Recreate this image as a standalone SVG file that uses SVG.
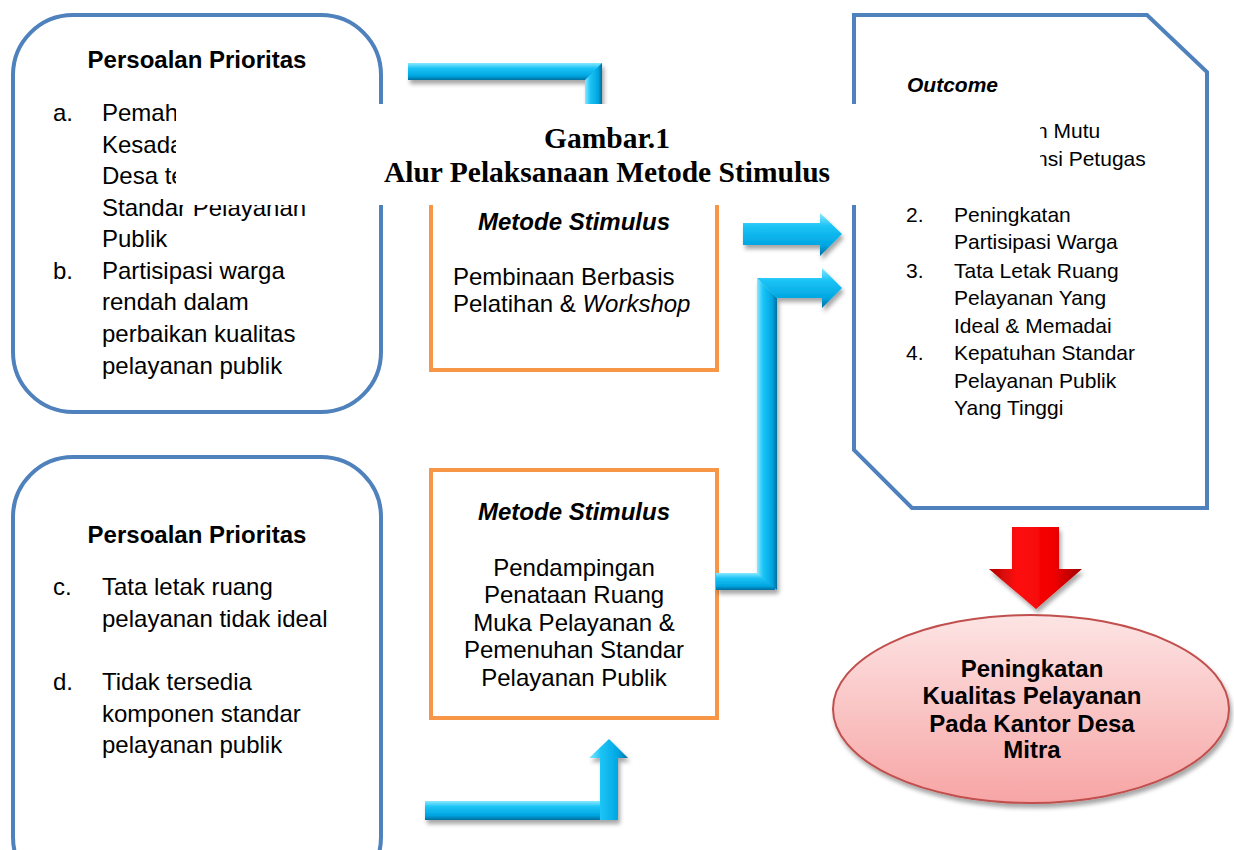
<svg xmlns="http://www.w3.org/2000/svg" width="1234" height="850" viewBox="0 0 1234 850">
<style>
.box{fill:#fff;stroke:#4F81BD;stroke-width:4}
.ob{fill:#fff;stroke:#F79646;stroke-width:4}
.t{font-family:"Liberation Sans",Arial,sans-serif;font-size:24px;fill:#000}
.o{font-family:"Liberation Sans",Arial,sans-serif;font-size:21px;fill:#000}
.b{font-weight:bold}
.i{font-style:italic}
.c{text-anchor:middle}
.title{font-family:"Liberation Serif","Times New Roman",serif;font-weight:bold;font-size:29.5px;fill:#000;text-anchor:middle}
</style>
<defs>
<linearGradient id="cyanH" x1="0" y1="0" x2="0" y2="1">
<stop offset="0" stop-color="#8AE9FF"/><stop offset="0.3" stop-color="#1CC4F6"/><stop offset="0.75" stop-color="#00A6E2"/><stop offset="1" stop-color="#006F9E"/>
</linearGradient>
<linearGradient id="cyanV" x1="0" y1="0" x2="1" y2="0">
<stop offset="0" stop-color="#8AE9FF"/><stop offset="0.3" stop-color="#1CC4F6"/><stop offset="0.75" stop-color="#00A6E2"/><stop offset="1" stop-color="#006F9E"/>
</linearGradient>
<linearGradient id="red" x1="0" y1="0" x2="1" y2="0">
<stop offset="0" stop-color="#B00000"/><stop offset="0.3" stop-color="#FF1010"/><stop offset="0.7" stop-color="#F00000"/><stop offset="1" stop-color="#A00000"/>
</linearGradient>
<linearGradient id="pink" x1="0" y1="0" x2="0" y2="1">
<stop offset="0" stop-color="#FDE4E4"/><stop offset="1" stop-color="#F7A5A5"/>
</linearGradient>
<filter id="sh" x="-20%" y="-20%" width="140%" height="160%">
<feDropShadow dx="2" dy="4" stdDeviation="2" flood-color="#000" flood-opacity="0.35"/>
</filter>
</defs>

<g id="prioritas-1">
<rect class="box" x="13" y="15" width="368" height="397" rx="60"/>
<text class="t b c" x="197" y="68">Persoalan Prioritas</text>
<text class="t" x="53" y="121">a.</text>
<text class="t" x="102" y="121">Pemah</text>
<text class="t" x="102" y="153">Kesada</text>
<text class="t" x="102" y="184">Desa te</text>
<text class="t" x="102" y="216">Standar Pelayanan</text>
<text class="t" x="102" y="247">Publik</text>
<text class="t" x="53" y="279">b.</text>
<text class="t" x="102" y="279">Partisipasi warga</text>
<text class="t" x="102" y="310">rendah dalam</text>
<text class="t" x="102" y="342">perbaikan kualitas</text>
<text class="t" x="102" y="374">pelayanan publik</text>
</g>

<g id="prioritas-2">
<rect class="box" x="13" y="457" width="368" height="440" rx="60"/>
<text class="t b c" x="197" y="543">Persoalan Prioritas</text>
<text class="t" x="53" y="595">c.</text>
<text class="t" x="102" y="595">Tata letak ruang</text>
<text class="t" x="102" y="627">pelayanan tidak ideal</text>
<text class="t" x="53" y="690">d.</text>
<text class="t" x="102" y="690">Tidak tersedia</text>
<text class="t" x="102" y="722">komponen standar</text>
<text class="t" x="102" y="753">pelayanan publik</text>
</g>

<g id="metode-1">
<rect class="ob" x="431" y="115" width="286" height="255"/>
<text class="t b i c" x="574" y="230">Metode Stimulus</text>
<text class="t" x="453" y="285">Pembinaan Berbasis</text>
<text class="t" x="453" y="312">Pelatihan &amp; <tspan font-style="italic">Workshop</tspan></text>
</g>

<g id="metode-2">
<rect class="ob" x="431" y="470" width="286" height="248"/>
<text class="t b i c" x="574" y="520">Metode Stimulus</text>
<text class="t c" x="574" y="576">Pendampingan</text>
<text class="t c" x="574" y="603">Penataan Ruang</text>
<text class="t c" x="574" y="631">Muka Pelayanan &amp;</text>
<text class="t c" x="574" y="658">Pemenuhan Standar</text>
<text class="t c" x="574" y="686">Pelayanan Publik</text>
</g>

<g id="outcome">
<polygon class="box" points="854,15 1147,15 1207,72 1207,508 912,508 854,450"/>
<text class="o b i" x="907" y="92">Outcome</text>
<text class="o" x="1036" y="138">n Mutu</text>
<text class="o" x="1036" y="166">nsi Petugas</text>
<text class="o" x="906" y="222">2.</text>
<text class="o" x="954" y="222">Peningkatan</text>
<text class="o" x="954" y="249">Partisipasi Warga</text>
<text class="o" x="906" y="278">3.</text>
<text class="o" x="954" y="278">Tata Letak Ruang</text>
<text class="o" x="954" y="305">Pelayanan Yang</text>
<text class="o" x="954" y="333">Ideal &amp; Memadai</text>
<text class="o" x="906" y="360">4.</text>
<text class="o" x="954" y="360">Kepatuhan Standar</text>
<text class="o" x="954" y="388">Pelayanan Publik</text>
<text class="o" x="954" y="415">Yang Tinggi</text>
</g>

<g id="hasil">
<ellipse cx="1031" cy="709" rx="198" ry="94" fill="url(#pink)" stroke="#C0504D" stroke-width="2" filter="url(#sh)"/>
<text class="t b c" x="1032" y="677">Peningkatan</text>
<text class="t b c" x="1032" y="704">Kualitas Pelayanan</text>
<text class="t b c" x="1032" y="732">Pada Kantor Desa</text>
<text class="t b c" x="1032" y="758">Mitra</text>
</g>

<g id="connectors">
<g filter="url(#sh)">
<rect x="585" y="63" width="17" height="50" fill="url(#cyanV)"/>
<polygon points="408,63 602,63 585,80 408,80" fill="url(#cyanH)"/>
</g>
<polygon filter="url(#sh)" points="743,223 820,223 820,213 842,234 820,256 820,245 743,245" fill="url(#cyanH)"/>
<g filter="url(#sh)">
<rect x="716" y="573" width="59" height="17" fill="url(#cyanH)"/>
<polygon points="757,278 777,298 777,590 757,573" fill="url(#cyanV)"/>
<polygon points="757,278 822,278 822,268 842,288 822,308 822,298 777,298" fill="url(#cyanH)"/>
</g>
<g filter="url(#sh)">
<polygon points="425,801 600,801 618,820 425,820" fill="url(#cyanH)"/>
<polygon points="600,820 600,758 589,758 609,739 628,758 618,758 618,820" fill="url(#cyanV)"/>
</g>
<polygon filter="url(#sh)" points="1012,527 1059,527 1059,569 1082,569 1036,609 989,569 1012,569" fill="url(#red)"/>
</g>

<g id="judul">
<rect x="176" y="104" width="864" height="101" fill="#fff"/>
<text class="title" x="607" y="148">Gambar.1</text>
<text class="title" x="607" y="182">Alur Pelaksanaan Metode Stimulus</text>
</g>
</svg>
